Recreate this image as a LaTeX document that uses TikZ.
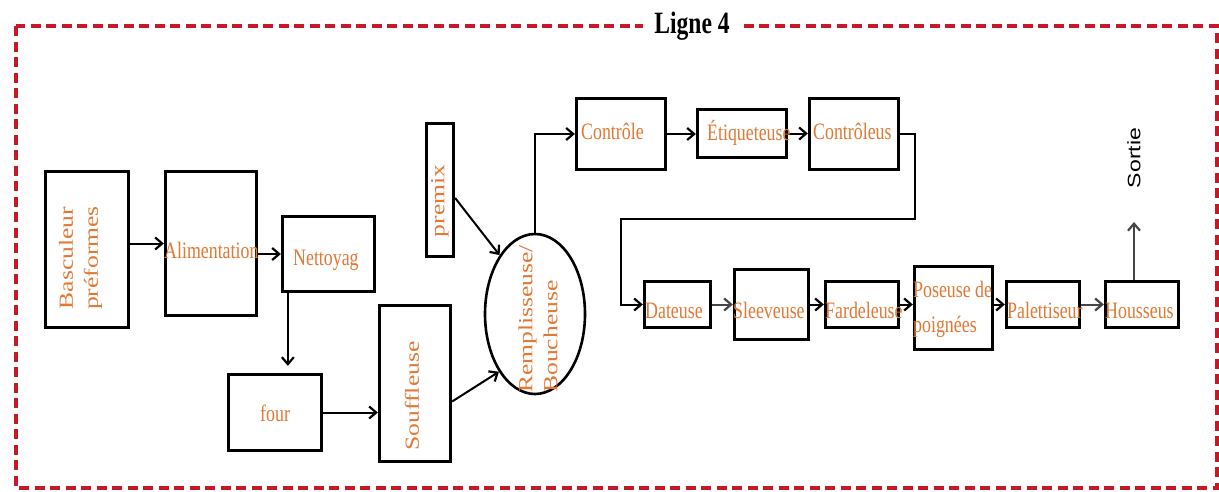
\documentclass[tikz,border=0pt]{standalone}
\usepackage{fontspec}
\setmainfont{Liberation Serif}
\newfontfamily\hfont[FakeStretch=0.76]{Liberation Serif}
\newfontfamily\vfont[FakeStretch=1.28]{Liberation Serif}
\newfontfamily\sfont[FakeStretch=1.28]{Liberation Sans}
\usetikzlibrary{shapes.geometric,arrows.meta}
\definecolor{txtorange}{RGB}{226,120,52}
\definecolor{framered}{RGB}{200,24,40}
\definecolor{darkline}{RGB}{70,70,70}
\begin{document}
\begin{tikzpicture}[x=1pt,y=-1pt,
 box/.style={draw=black,line width=3.3pt,rectangle,inner sep=0pt},
 htxt/.style={text=txtorange,font=\hfont\fontsize{23.5}{27}\selectfont,inner sep=0pt,anchor=base west},
 vtxt/.style={text=txtorange,font=\vfont\fontsize{20}{25}\selectfont,inner sep=0pt,rotate=90,align=center},
 arr/.style={line width=2pt,-{Straight Barb[length=7pt,width=12pt,line width=2.2pt]}},
 garr/.style={arr,draw=darkline},
 frame/.style={draw=framered,line width=3.2pt,dash pattern=on 10pt off 5.5pt}]
\useasboundingbox (0,0) rectangle (1219,491);
\fill[white] (0,0) rectangle (1219,491);
\draw[frame] (16,26) rectangle (1217,488);
\node[fill=white,inner xsep=11pt,inner ysep=3pt,anchor=base,font=\hfont\bfseries\fontsize{31}{35}\selectfont] (title) at (692,33) {Ligne 4};

% boxes
\node[box,minimum width=83pt,minimum height=156pt] (basc) at (87,249.5) {};
\node[box,minimum width=91pt,minimum height=144pt] (alim) at (211,243.5) {};
\node[box,minimum width=92pt,minimum height=75pt] (nett) at (328.5,254) {};
\node[box,minimum width=93pt,minimum height=76pt] (four) at (275,412.5) {};
\node[box,minimum width=71pt,minimum height=156pt] (souff) at (415,383.5) {};
\node[box,minimum width=27pt,minimum height=133pt] (premix) at (440,190) {};
\node[draw,ellipse,line width=2.6pt,minimum width=100pt,minimum height=160pt,inner sep=0pt] (ell) at (535,314) {};
\node[box,minimum width=89pt,minimum height=71pt] (ctrl) at (621,134) {};
\node[box,minimum width=89pt,minimum height=48pt] (etiq) at (742,133.5) {};
\node[box,minimum width=89pt,minimum height=71pt] (ctrl2) at (854,134) {};
\node[box,minimum width=66pt,minimum height=46pt] (dat) at (677.5,304.5) {};
\node[box,minimum width=74pt,minimum height=70pt] (sleeve) at (771.5,304.5) {};
\node[box,minimum width=73pt,minimum height=46pt] (fard) at (862,304.5) {};
\node[box,minimum width=78pt,minimum height=83pt] (pos) at (953.5,308) {};
\node[box,minimum width=73pt,minimum height=46pt] (palet) at (1043,304.5) {};
\node[box,minimum width=73pt,minimum height=46pt] (house) at (1142,304.5) {};

% connectors
\draw[arr] (basc.east |- alim.west) -- (alim.west);
\draw[arr] (alim.east |- nett.west) -- (nett.west);
\coordinate (n1) at ([xshift=7pt]nett.south west);
\draw[arr,shorten >=7pt] (n1) -- (n1 |- four.north);
\draw[arr] (four.east) -- (four.east -| souff.west);
\draw[arr] ([yshift=-18pt]souff.east) -- (ell.238);
\draw[arr] ([yshift=-8pt]premix.east) -- (ell.121);
\draw[arr] (ell.north) |- (ctrl.west);
\draw[arr] (ctrl.east) -- (ctrl.east -| etiq.west);
\draw[arr] (etiq.east) -- (etiq.east -| ctrl2.west);
\coordinate (c1) at (915,219);
\coordinate (c2) at (621,219);
\draw[arr] (ctrl2.east) -| (c1) -- (c2) |- (dat.west);
\draw[garr] (dat.east) -- (sleeve.west);
\draw[arr] (sleeve.east) -- (fard.west);
\draw[arr] (fard.east) -- (fard.east -| pos.west);
\draw[arr] (pos.east |- palet.west) -- (palet.west);
\draw[garr] (palet.east) -- (house.west);
\coordinate (so) at (1134,222);
\draw[garr] (so |- house.north) -- (so);

% texts
\node[vtxt] (bascT) at (80.5,258) {Basculeur\\préformes};
\node[htxt] (alimT) at (164,258) {Alimentation};
\node[htxt] (nettT) at (293,265) {Nettoyag};
\node[htxt] (fourT) at (260,421) {four};
\node[vtxt] (souffT) at (412,396) {Souffleuse};
\node[vtxt] (premixT) at (440,201) {premix};
\node[vtxt,anchor=west,align=left] (ellT) at (538,393) {Remplisseuse/\\Boucheuse};
\node[htxt] (ctrlT) at (581,139) {Contrôle};
\node[htxt] (etiqT) at (707,140) {Étiqueteuse};
\node[htxt] (ctrl2T) at (813,139) {Contrôleus};
\node[htxt] (datT) at (645,318) {Dateuse};
\node[htxt] (sleeveT) at (733,318) {Sleeveuse};
\node[htxt] (fardT) at (825,318) {Fardeleuse};
\node[htxt,anchor=west,align=left,font=\hfont\fontsize{23.5}{35}\selectfont] (posT) at (913,309) {Poseuse de\\poignées};
\node[htxt] (paletT) at (1007,318) {Palettiseur};
\node[htxt] (houseT) at (1105,318) {Housseus};
\node[font=\sfont\fontsize{18}{22}\selectfont,rotate=90,inner sep=0pt] (sortie) at (1134,158) {Sortie};
\end{tikzpicture}
\end{document}
